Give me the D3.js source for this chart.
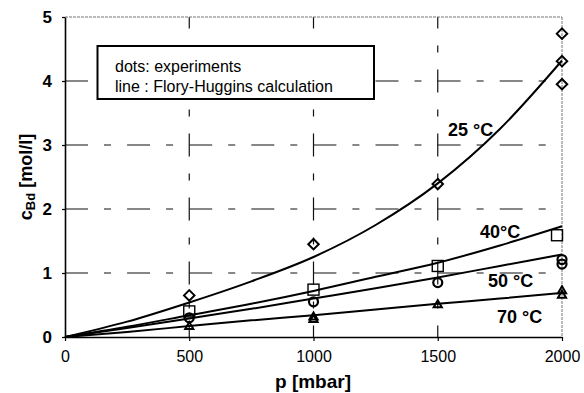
<!DOCTYPE html>
<html>
<head>
<meta charset="utf-8">
<script src="https://cdn.jsdelivr.net/npm/d3@7"></script>
<style>
  html, body { margin: 0; padding: 0; background: #fff; }
  svg { display: block; font-family: "Liberation Sans", Arial, sans-serif; }
</style>
</head>
<body>
<svg id="chart" width="584" height="393"></svg>
<script>
// Pressure grid (mbar) used by the Flory-Huggins curves
const curvePressure = [0, 250, 500, 750, 1000, 1250, 1500, 1750, 2000];
const curve25 = [0, 0.24, 0.54, 0.87, 1.25, 1.75, 2.40, 3.25, 4.32];
const curve40 = [0, 0.16, 0.34, 0.52, 0.72, 0.94, 1.16, 1.43, 1.73];
const curve50 = [0, 0.14, 0.29, 0.44, 0.60, 0.76, 0.93, 1.11, 1.29];
const curve70 = [0, 0.08, 0.17, 0.26, 0.34, 0.43, 0.52, 0.60, 0.69];

// Measured points: [pressure, concentration]
const exp25 = [[500, 0.65], [1000, 1.45], [1500, 2.39], [2000, 4.74], [2000, 4.31], [2000, 3.95]];
const exp40 = [[500, 0.40], [1000, 0.74], [1500, 1.11], [1980, 1.59]];
const exp50 = [[500, 0.30], [1000, 0.55], [1500, 0.85], [2000, 1.21], [2000, 1.14]];
const exp70 = [[500, 0.16], [1000, 0.31], [1000, 0.27], [1500, 0.50], [2000, 0.72], [2000, 0.65]];

const xTicks = [0, 500, 1000, 1500, 2000];
const yTicks = [0, 1, 2, 3, 4, 5];
const curveLabels = ["25 °C", "40°C", "50 °C", "70 °C"];
const legendLines = ["dots: experiments", "line : Flory-Huggins calculation"];

const svg = d3.select("#chart");
const x = d3.scaleLinear().domain([0, 2000]).range([65, 562]);
const y = d3.scaleLinear().domain([0, 5]).range([337, 17]);

// Dashed grid
const grid = svg.append("g").attr("stroke", "#111").attr("stroke-width", 1.2).attr("fill", "none");
yTicks.slice(1, 5).forEach(v => {
  grid.append("line")
    .attr("x1", x(0)).attr("x2", x(2000)).attr("y1", y(v)).attr("y2", y(v))
    .attr("stroke-dasharray", "23,16,7,16.1");
});
xTicks.slice(1, 4).forEach(v => {
  grid.append("line")
    .attr("x1", x(v)).attr("x2", x(v)).attr("y1", y(0)).attr("y2", y(5))
    .attr("stroke-dasharray", "23,17,7,17")
    .attr("stroke-dashoffset", 11.5);
});

// Plot frame (top and right edges are faint)
svg.append("line").attr("x1", x(0)).attr("x2", x(2000)).attr("y1", y(5)).attr("y2", y(5))
  .attr("stroke", "#777").attr("stroke-width", 1).attr("stroke-dasharray", "3,1");
svg.append("line").attr("x1", x(2000)).attr("x2", x(2000)).attr("y1", y(5)).attr("y2", y(0))
  .attr("stroke", "#777").attr("stroke-width", 1).attr("stroke-dasharray", "3,1");

// Axes
const xAxis = d3.axisBottom(x).tickValues(xTicks).tickFormat(d3.format("d"))
  .tickSize(4).tickSizeOuter(0).tickPadding(10);
const yAxis = d3.axisLeft(y).tickValues(yTicks).tickFormat(d3.format("d"))
  .tickSize(3).tickSizeOuter(0).tickPadding(10);

const gx = svg.append("g").attr("transform", `translate(0,${y(0)})`).call(xAxis);
gx.select(".domain").attr("stroke", "#000").attr("stroke-width", 1.6);
gx.selectAll(".tick line").attr("stroke", "#000").attr("stroke-width", 1.2);
gx.selectAll(".tick text").attr("font-size", 16).attr("fill", "#000")
  .attr("font-family", "Liberation Sans, Arial, sans-serif");

const gy = svg.append("g").attr("transform", `translate(${x(0)},0)`).call(yAxis);
gy.select(".domain").attr("stroke", "#000").attr("stroke-width", 1.6);
gy.selectAll(".tick line").attr("stroke", "#000").attr("stroke-width", 1.2);
gy.selectAll(".tick text").attr("font-size", 17).attr("font-weight", "bold").attr("fill", "#000")
  .attr("font-family", "Liberation Sans, Arial, sans-serif");

// Axis titles
svg.append("text").attr("x", 313).attr("y", 388).attr("text-anchor", "middle")
  .attr("font-size", 19).attr("font-weight", "bold").text("p [mbar]");

const yTitle = svg.append("text")
  .attr("transform", "translate(32,177) rotate(-90)")
  .attr("text-anchor", "middle").attr("font-size", 18).attr("font-weight", "bold");
yTitle.append("tspan").text("c");
yTitle.append("tspan").attr("font-size", 13).attr("dy", 3).text("Bd");
yTitle.append("tspan").attr("dy", -3).text(" [mol/l]");

// Legend box
const lg = svg.append("g");
lg.append("rect").attr("x", 97.5).attr("y", 46).attr("width", 276.5).attr("height", 53)
  .attr("fill", "#fff").attr("stroke", "#000").attr("stroke-width", 2);
lg.selectAll("text").data(legendLines).join("text")
  .attr("x", 115).attr("y", (d, i) => 72 + i * 20)
  .attr("font-size", 16).attr("fill", "#000").text(d => d);

// Flory-Huggins curves
const line = d3.line().x((d, i) => x(curvePressure[i])).y(d => y(d)).curve(d3.curveMonotoneX);
[curve25, curve40, curve50, curve70].forEach(c => {
  svg.append("path").datum(c).attr("d", line)
    .attr("fill", "none").attr("stroke", "#000").attr("stroke-width", 2);
});

// Markers
const mk = svg.append("g").attr("fill", "none").attr("stroke", "#000");
mk.selectAll(".dia").data(exp25).join("path")
  .attr("d", d3.symbol(d3.symbolDiamond2, 70))
  .attr("transform", d => `translate(${x(d[0])},${y(d[1])})`).attr("stroke-width", 2);
mk.selectAll(".sq").data(exp40).join("rect")
  .attr("x", d => x(d[0]) - 5.5).attr("y", d => y(d[1]) - 5.5)
  .attr("width", 11).attr("height", 11).attr("stroke-width", 1.4);
mk.selectAll(".ci").data(exp50).join("circle")
  .attr("cx", d => x(d[0])).attr("cy", d => y(d[1])).attr("r", 4.5).attr("stroke-width", 2.2);
mk.selectAll(".tri").data(exp70).join("path")
  .attr("d", d3.symbol(d3.symbolTriangle2, 48))
  .attr("transform", d => `translate(${x(d[0])},${y(d[1])})`).attr("stroke-width", 2);

// Curve labels
const labelPos = [[448, 136], [480, 238], [488, 287], [497, 323]];
svg.selectAll(".clabel").data(curveLabels).join("text")
  .attr("x", (d, i) => labelPos[i][0]).attr("y", (d, i) => labelPos[i][1])
  .attr("font-size", 18).attr("font-weight", "bold").attr("fill", "#000")
  .text(d => d);
</script>
</body>
</html>
